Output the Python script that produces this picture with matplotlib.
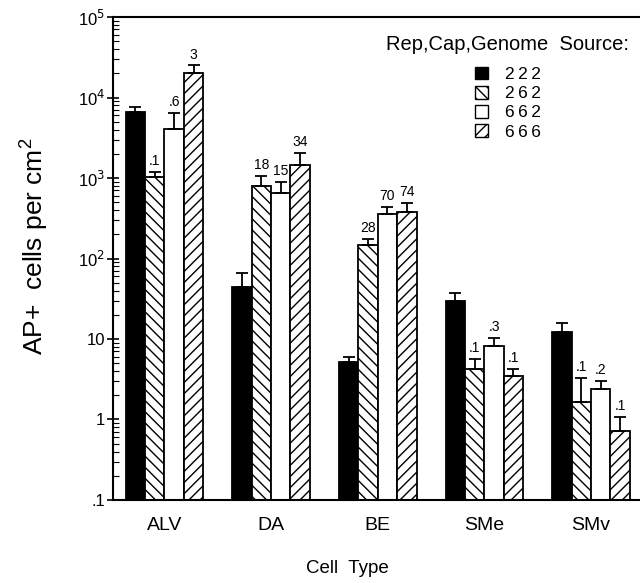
import matplotlib.pyplot as plt
import numpy as np
from matplotlib.patches import Patch
from matplotlib.ticker import FixedLocator, FixedFormatter, LogLocator, NullFormatter

plt.rcParams['font.family'] = ['Liberation Sans', 'DejaVu Sans']
plt.rcParams['hatch.linewidth'] = 1.0

# Data
cell_types = ['ALV', 'DA', 'BE', 'SMe', 'SMv']
sources = ['222', '262', '662', '666']

vals_222 = [6600, 44, 5.2, 29.5, 12.2]
vals_262 = [1020, 800, 148, 4.2, 1.65]
vals_662 = [4100, 650, 357, 8.1, 2.4]
vals_666 = [20000, 1450, 380, 3.5, 0.72]

err_222 = [7600, 66, 6.0, 37, 15.8]
err_262 = [1180, 1060, 175, 5.6, 3.3]
err_662 = [6500, 890, 433, 10.2, 3.0]
err_666 = [25000, 2040, 490, 4.2, 1.07]

# labels printed above the non-222 bars
lab_262 = ['.1', '18', '28', '.1', '.1']
lab_662 = ['.6', '15', '70', '.3', '.2']
lab_666 = ['3', '34', '74', '.1', '.1']

values = [vals_222, vals_262, vals_662, vals_666]
tops = [err_222, err_262, err_662, err_666]
labels = [None, lab_262, lab_662, lab_666]
faces = ['black', 'white', 'white', 'white']
hatches = [None, '\\\\\\', None, '///']

fig = plt.figure(figsize=(6.4, 5.83), dpi=100)
ax = fig.add_axes([0.177, 0.1424, 0.823, 0.8284])

x = np.arange(len(cell_types))
w = 0.182
bottom = 0.1

for i in range(4):
    pos = x + (i - 1.5) * w
    v = np.array(values[i])
    t = np.array(tops[i])
    ax.bar(pos, v - bottom, bottom=bottom, width=w, color=faces[i],
           edgecolor='black', linewidth=1.3, hatch=hatches[i], zorder=2)
    ax.errorbar(pos, v, yerr=[np.zeros_like(v), t - v], fmt='none',
                ecolor='black', elinewidth=1.3, capsize=4, capthick=1.3, zorder=3)
    if labels[i] is not None:
        for p, tt, s in zip(pos, t, labels[i]):
            ax.text(p, tt * 1.12, s, ha='center', va='bottom', fontsize=10)

ax.set_yscale('log')
ax.set_ylim(0.1, 1e5)
ax.set_xlim(-0.48, 4.46)

ax.yaxis.set_major_locator(FixedLocator([0.1, 1, 10, 100, 1000, 1e4, 1e5]))
ax.yaxis.set_major_formatter(FixedFormatter(['.1', '1', '10', '10$^2$', '10$^3$', '10$^4$', '10$^5$']))
ax.yaxis.set_minor_locator(LogLocator(base=10, subs=np.arange(2, 10)))
ax.yaxis.set_minor_formatter(NullFormatter())
ax.tick_params(axis='y', which='major', direction='inout', length=8, width=1.2, labelsize=12, pad=2)
ax.tick_params(axis='y', which='minor', direction='in', length=4, width=0.8)

ax.set_xticks(x)
ax.set_xticklabels(cell_types, fontsize=14)
ax.tick_params(axis='x', length=0, pad=12)

ax.spines['right'].set_visible(False)
for s in ['left', 'top', 'bottom']:
    ax.spines[s].set_linewidth(1.5)

ax.set_ylabel('AP+  cells per cm$^{\\mathregular{2}}$', fontsize=19, va='center')
ax.yaxis.set_label_coords(-0.152, 0.525)
ax.set_xlabel('Cell  Type', fontsize=13.5, va='center')
ax.xaxis.set_label_coords(0.445, -0.141)

handles = [Patch(facecolor=faces[i], edgecolor='black', hatch=hatches[i], linewidth=1.0)
           for i in range(4)]
leg = ax.legend(handles, ['\u2009'.join(s) for s in sources], title='Rep,Cap,Genome  Source:',
                frameon=False, loc='upper center', bbox_to_anchor=(0.749, 0.995),
                fontsize=12.5, title_fontsize=14.5, handlelength=0.75, handleheight=0.75,
                handletextpad=1.0, labelspacing=0.22)
leg._legend_box.sep = 9

fig.savefig('out.png', dpi=100)
